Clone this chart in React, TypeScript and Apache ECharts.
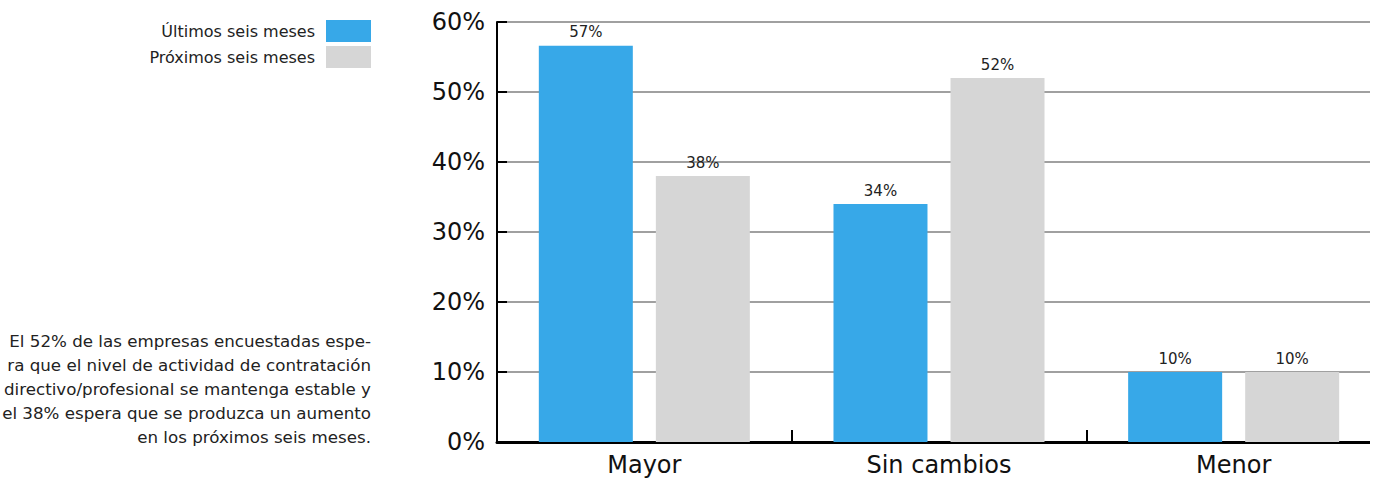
import React, { useEffect, useRef } from "react";
import * as echarts from "echarts";

const categories = ["Mayor", "Sin cambios", "Menor"];
const seriesNames = ["Últimos seis meses", "Próximos seis meses"];
const ultimos = [56.6, 34, 10];
const proximos = [38, 52, 10];
const yTicks = [0, 10, 20, 30, 40, 50, 60];
const noteLines = [
  "El 52% de las empresas encuestadas espe-",
  "ra que el nivel de actividad de contratación",
  "directivo/profesional se mantenga estable y",
  "el 38% espera que se produzca un aumento",
  "en los próximos seis meses.",
];

const FONT = "DejaVu Sans, Verdana, sans-serif";
const BLUE = "#37A8E8";
const GRAY = "#D6D6D6";

export default function App() {
  const ref = useRef<HTMLDivElement>(null);
  useEffect(() => {
    if (!ref.current) return;
    const chart = echarts.init(ref.current, undefined, { renderer: "svg" });
    const labelStyle = {
      show: true,
      position: "top" as const,
      distance: 6,
      formatter: (p: any) => Math.round(p.value) + "%",
      fontSize: 15,
      color: "#222",
      fontFamily: FONT,
    };
    chart.setOption({
      animation: false,
      textStyle: { fontFamily: FONT },
      grid: { left: 497, right: 0, top: 22, bottom: 36, containLabel: false },
      legend: {
        orient: "vertical",
        right: 1381 - 371 - 5,
        top: 15,
        align: "right",
        itemWidth: 45,
        itemHeight: 22,
        itemGap: 4,
        icon: "rect",
        textStyle: { fontSize: 16, color: "#222", fontFamily: FONT, padding: [0, 6, 0, 0] },
        data: seriesNames,
      },
      xAxis: {
        type: "category",
        data: categories,
        axisLine: { lineStyle: { color: "#000", width: 3 } },
        axisTick: { show: true, inside: true, length: 12, lineStyle: { color: "#000", width: 2 } },
        axisLabel: { fontSize: 24, color: "#111", margin: 11, fontFamily: FONT },
      },
      yAxis: {
        type: "value",
        min: yTicks[0],
        max: yTicks[yTicks.length - 1],
        interval: 10,
        axisLine: { show: true, lineStyle: { color: "#000", width: 2 } },
        axisTick: { show: true, inside: true, length: 10, lineStyle: { color: "#000", width: 2 } },
        axisLabel: { formatter: "{value}%", fontSize: 24, color: "#111", margin: 12, fontFamily: FONT },
        splitLine: { show: true, lineStyle: { color: "#808080", width: 1.5 } },
      },
      series: [
        {
          name: seriesNames[0],
          type: "bar",
          data: ultimos,
          barWidth: 94,
          barGap: "24.5%",
          itemStyle: { color: BLUE },
          label: labelStyle,
        },
        {
          name: seriesNames[1],
          type: "bar",
          data: proximos,
          barWidth: 94,
          barGap: "24.5%",
          itemStyle: { color: GRAY },
          label: labelStyle,
        },
      ],
      graphic: [
        {
          type: "text",
          x: 371,
          y: 329,
          style: {
            text: noteLines.join("\n"),
            textAlign: "right",
            fontSize: 16.7,
            lineHeight: 24,
            fill: "#222",
            fontFamily: FONT,
          },
        },
      ],
    });
    return () => chart.dispose();
  }, []);
  return (
    <div style={{ position: "absolute", left: 0, top: 0, width: 1370, height: 478, overflow: "hidden" }}>
      <div ref={ref} style={{ width: 1381, height: 478 }} />
    </div>
  );
}
